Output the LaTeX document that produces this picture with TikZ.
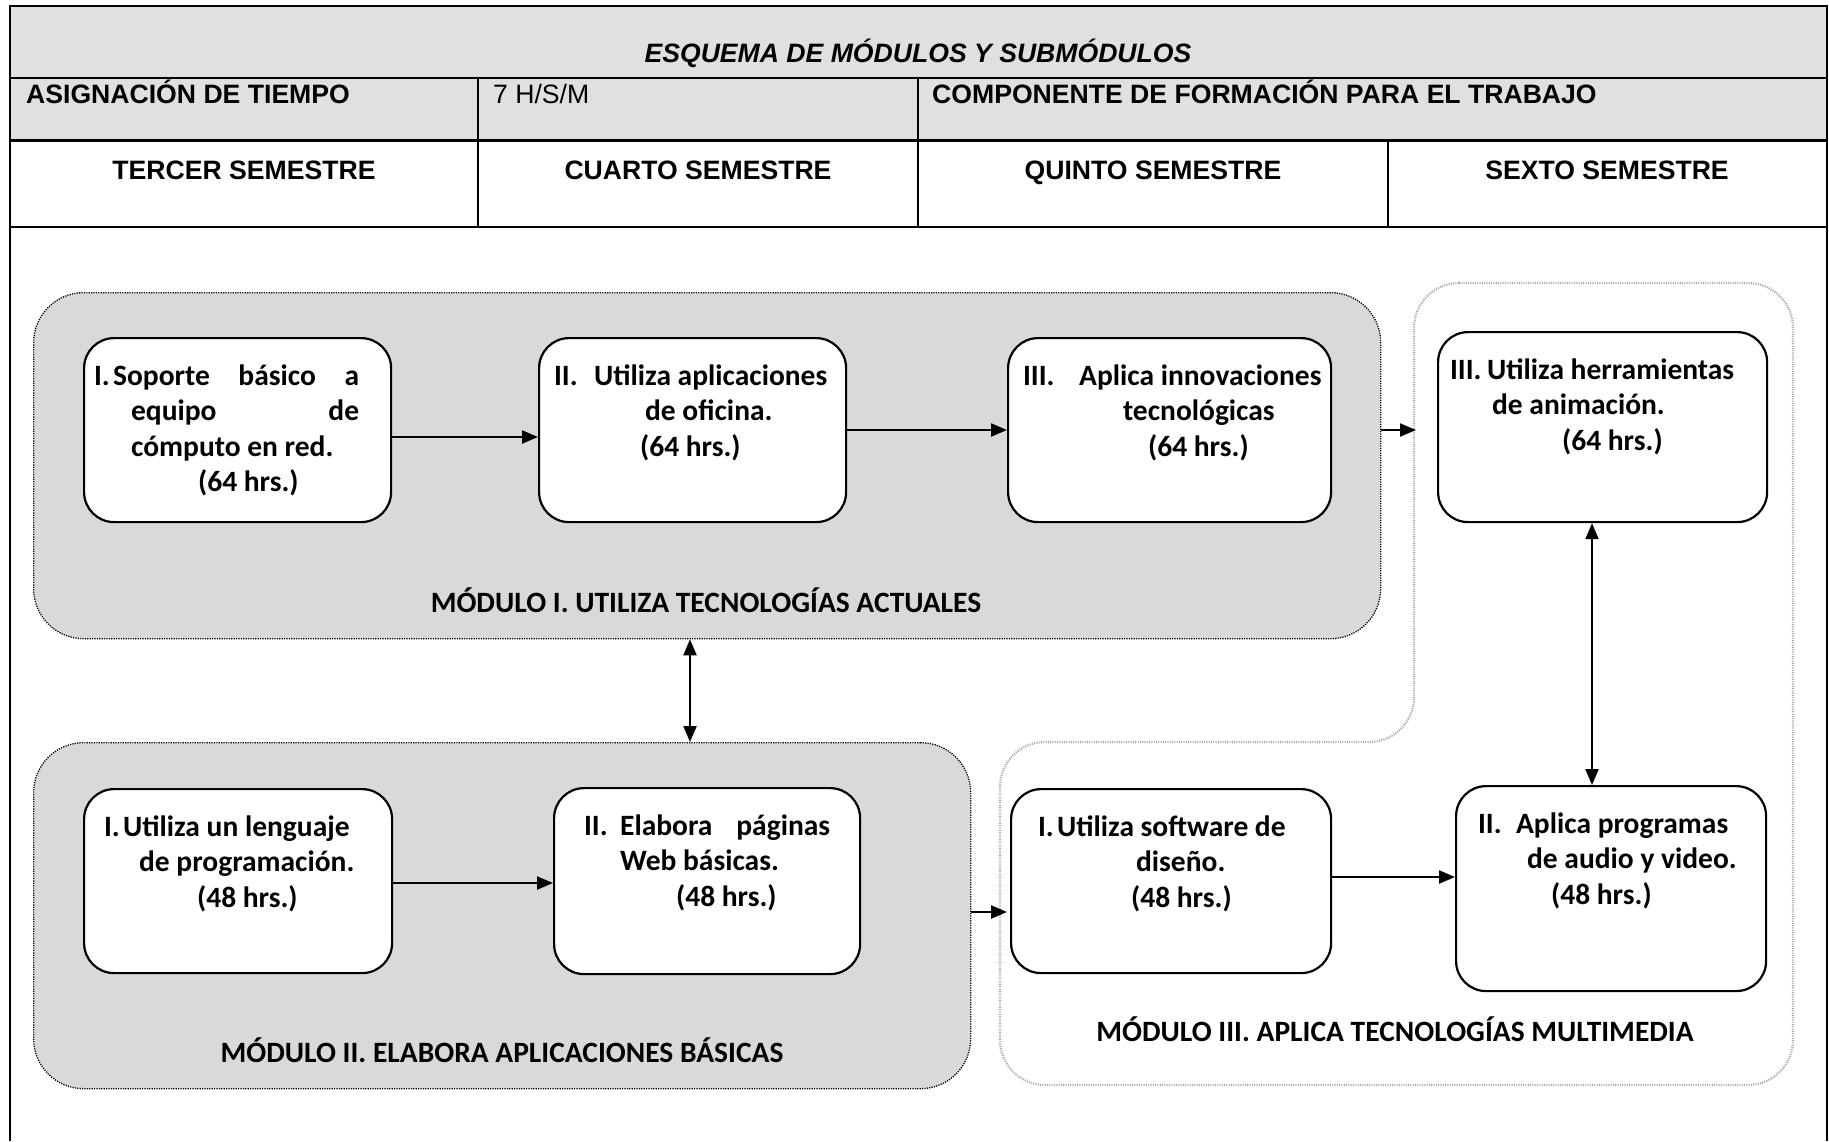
\documentclass[tikz,border=0pt]{standalone}
\usepackage{fontspec}
\setmainfont{Carlito}
\newfontfamily\arialfont{Liberation Sans}
\usetikzlibrary{arrows.meta,positioning}

\definecolor{headgray}{RGB}{224,224,224}
\definecolor{modgray}{RGB}{217,217,217}

% one line of a submodule box: left offset, text
\newcommand{\sline}[2]{\hspace*{#1pt}#2\\}
% text block of a submodule box: width, height, lines
\newcommand{\subtext}[3]{\parbox[c][#2pt][t]{#1pt}{\rule{0pt}{47pt}#3}}

\tikzset{
  tline/.style={line width=2pt},
  headtext/.style={font=\arialfont\bfseries\fontsize{26.6}{30}\selectfont, inner sep=0pt},
  sub/.style={draw, line width=2.2pt, rounded corners=30pt, fill=white, inner sep=0pt,
    anchor=north west, font=\bfseries\fontsize{29.5}{35.5}\selectfont},
  module/.style={draw, fill=modgray, rounded corners=50pt, line width=1.3pt,
    dash pattern=on 1.2pt off 1.2pt, anchor=north west},
  modlabel/.style={font=\bfseries\fontsize{29.5}{35.5}\selectfont, inner sep=0pt, anchor=base},
  flow/.style={-{Triangle[length=16pt,width=13pt]}, line width=2.2pt},
  both/.style={{Triangle[length=16pt,width=13pt]}-{Triangle[length=16pt,width=13pt]}, line width=2.2pt},
}

\begin{document}
\begin{tikzpicture}[x=1pt,y=-1pt]
    \useasboundingbox (0,0) rectangle (1829,1141);

    % Header table
    \fill[headgray] (10,6) rectangle (1827,140);
    \draw[line width=2.5pt] (10,1141) -- (10,6) -- (1827,6) -- (1827,1141);
    \draw[tline] (10,78) -- (1827,78);
    \draw[line width=3pt] (10,140) -- (1827,140);
    \draw[tline] (10,227) -- (1827,227);
    \draw[tline] (478,78) -- (478,227);
    \draw[tline] (918,78) -- (918,227);
    \draw[tline] (1388,140) -- (1388,227);

    \node[headtext, anchor=base] (title) at (918,62) {\itshape ESQUEMA DE MÓDULOS Y SUBMÓDULOS};
    \node[headtext, anchor=base west] (asig) at (26,103) {ASIGNACIÓN DE TIEMPO};
    \node[headtext, anchor=base west, font=\arialfont\fontsize{26.6}{30}\selectfont] (hsm) at (493,103) {7 H/S/M};
    \node[headtext, anchor=base west] (comp) at (932,103) {COMPONENTE DE FORMACIÓN PARA EL TRABAJO};
    \foreach \x/\s/\n in {244/TERCER/sem3, 698/CUARTO/sem4, 1153/QUINTO/sem5, 1607/SEXTO/sem6} {
        \node[headtext, anchor=base] (\n) at (\x,179) {\s\ SEMESTRE};
    }

    % Module backgrounds
    \node[module, minimum width=1347pt, minimum height=346pt] (m1) at (33,292) {};
    \node[module, minimum width=937pt, minimum height=346pt] (m2) at (33,742) {};
    \draw[gray!70, line width=2.2pt, dash pattern=on 1pt off 1.3pt, rounded corners=45pt]
        (1414,283) -- (1793,283) -- (1793,1085) -- (1000,1085) -- (1000,742) -- (1414,742) -- cycle;
    \coordinate (m3top) at (1416,430);
    \coordinate (m3low) at (1007,912);

    % Module I
    \node[sub] (A) at (83,337) {\subtext{307}{184}{%
        \sline{10}{\makebox[265pt]{\makebox[19pt][l]{I.}Soporte\hfill básico\hfill a}}%
        \sline{47}{\makebox[228pt]{equipo\hfill de}}%
        \sline{47}{cómputo en red.}%
        \sline{114}{(64 hrs.)}}};
    \node[sub] (B) at (538,337) {\subtext{307}{184}{%
        \sline{15}{\makebox[40pt][l]{II.}Utiliza aplicaciones}%
        \sline{106}{de oficina.}%
        \sline{101}{(64 hrs.)}}};
    \node[sub] (C) at (1007,337) {\subtext{323}{184}{%
        \sline{15}{\makebox[56pt][l]{III.}Aplica innovaciones}%
        \sline{115}{tecnológicas}%
        \sline{140}{(64 hrs.)}}};
    \node[modlabel] (m1label) at (706,612) {MÓDULO I. UTILIZA TECNOLOGÍAS ACTUALES};

    % Module II
    \node[sub] (E) at (83,788) {\subtext{308}{184}{%
        \sline{20}{\makebox[19pt][l]{I.}Utiliza un lenguaje}%
        \sline{55}{de programación.}%
        \sline{113}{(48 hrs.)}}};
    \node[sub] (F) at (553,787) {\subtext{306}{186}{%
        \sline{30}{\makebox[246pt]{\makebox[36pt][l]{II.}Elabora\hfill páginas}}%
        \sline{66}{Web básicas.}%
        \sline{122}{(48 hrs.)}}};
    \node[modlabel] (m2label) at (502,1062) {MÓDULO II. ELABORA APLICACIONES BÁSICAS};

    % Module III
    \node[sub] (D) at (1437,331) {\subtext{329}{190}{%
        \sline{12}{\makebox[37pt][l]{III.}Utiliza herramientas}%
        \sline{54}{de animación.}%
        \sline{124}{(64 hrs.)}}};
    \node[sub] (G) at (1010,788) {\subtext{320}{184}{%
        \sline{27}{\makebox[19pt][l]{I.}Utiliza software de}%
        \sline{125}{diseño.}%
        \sline{120}{(48 hrs.)}}};
    \node[sub] (H) at (1455,785) {\subtext{310}{205}{%
        \sline{22}{\makebox[38pt][l]{II.}Aplica programas}%
        \sline{71}{de audio y video.}%
        \sline{95}{(48 hrs.)}}};
    \node[modlabel] (m3label) at (1395,1041) {MÓDULO III. APLICA TECNOLOGÍAS MULTIMEDIA};

    % Connectors
    \draw[flow] (A.east |- 0,437) -- (B.west |- 0,437);
    \draw[flow] (B.east |- 0,430) -- (C.west |- 0,430);
    \draw[flow] (m1.east |- m3top) -- (m3top);
    \draw[flow] (E.east |- 0,883) -- (F.west |- 0,883);
    \draw[flow] (m2.east |- m3low) -- (m3low);
    \draw[flow] (G.east |- 0,877) -- (H.west |- 0,877);
    \draw[both] (m1.south -| 690,0) -- (m2.north -| 690,0);
    \draw[both] (D.south -| 1592,0) -- (H.north -| 1592,0);
\end{tikzpicture}
\end{document}
